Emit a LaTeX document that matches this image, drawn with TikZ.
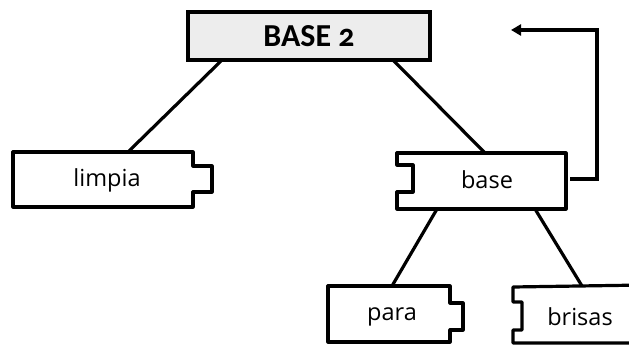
\documentclass[tikz,border=0pt]{standalone}
\usepackage{fontspec}
\setmainfont{Open Sans}
\newfontfamily\titlefont[Numbers=OldStyle]{Carlito}
\usetikzlibrary{arrows.meta}
\begin{document}
\begin{tikzpicture}[x=1pt,y=-1pt,
  outline/.style={draw=black, line width=3.2pt, line join=round, fill=white},
  conn/.style={draw=black, line width=3.2pt},
  lbl/.style={inner sep=0pt, font=\fontsize{23.5}{26}\selectfont},
  titlebox/.style={draw=black, line width=3.6pt, fill=gray!14, minimum width=242pt, minimum height=48pt, inner sep=0pt, font=\titlefont\bfseries\fontsize{32}{34}\selectfont}]
\clip (0,0) rectangle (629,347);
\fill[white] (0,0) rectangle (629,347);
% title
\node[titlebox] (b2) at (309,36) {BASE 2};
% limpia
\draw[outline] (13,152) -- (193,152) -- (193,166) -- (212,166) -- (212,192) -- (193,192) -- (193,207) -- (13,207) -- cycle;
\node[lbl] (limpia) at (107,180) {limpia};
% base
\draw[outline] (397,153) -- (566,153) -- (566,209) -- (397,209) -- (397,192) -- (413,192) -- (413,165) -- (397,165) -- cycle;
\node[lbl] (base) at (487,180) {base};
% para
\draw[outline] (328,286) -- (450,286) -- (450,303) -- (463,303) -- (463,330) -- (450,330) -- (450,342) -- (328,342) -- cycle;
\node[lbl] (para) at (392,317) {para};
% brisas
\draw[outline] (513,287) -- (645,285) -- (645,343) -- (513,343) -- (513,330) -- (522,330) -- (522,302) -- (513,302) -- cycle;
\node[lbl] (brisas) at (580,317) {brisas};
% connector end points
\coordinate (b2l) at (222,60);
\coordinate (b2r) at (393,60);
\coordinate (limpiaT) at (128,152);
\coordinate (baseT) at (485,153);
\coordinate (baseBL) at (437,209);
\coordinate (baseBR) at (535,209);
\coordinate (paraT) at (392,286);
\coordinate (brisasT) at (582,286);
\coordinate (baseE) at (570,179);
\coordinate (c1) at (597,179);
\coordinate (c2) at (597,30);
\coordinate (arrowEnd) at (511,30);
\draw[conn] (b2l) -- (limpiaT);
\draw[conn] (b2r) -- (baseT);
\draw[conn] (baseBL) -- (paraT);
\draw[conn] (baseBR) -- (brisasT);
\draw[conn, line join=miter, -{Triangle[length=10pt,width=11pt]}] (baseE) -- (c1) -- (c2) -- (arrowEnd);
\end{tikzpicture}
\end{document}
